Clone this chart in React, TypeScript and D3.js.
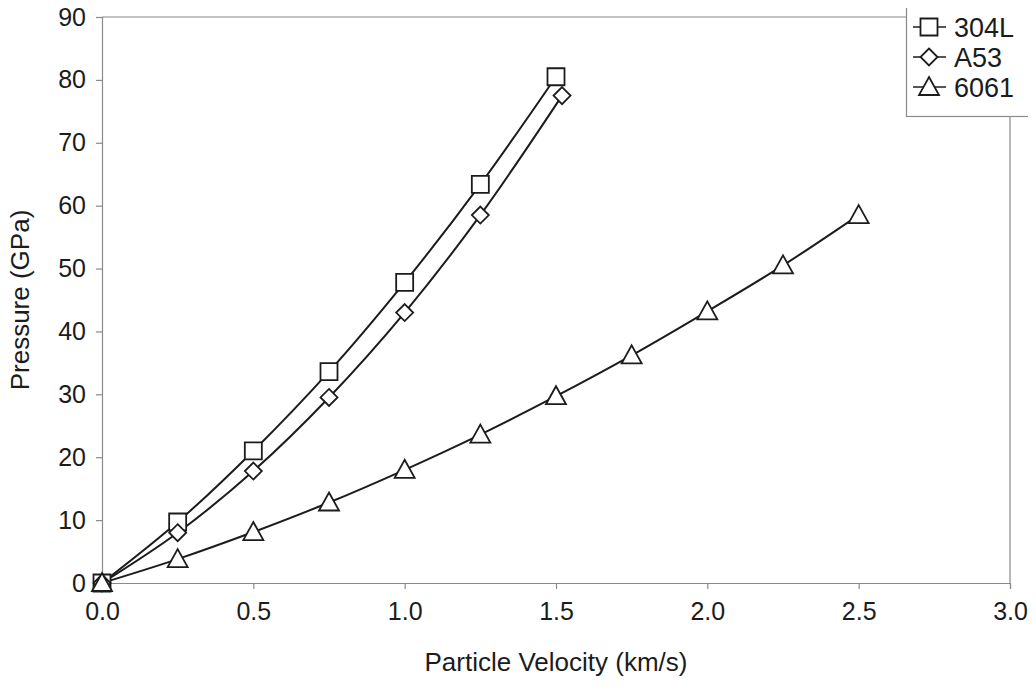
import React, { useEffect, useRef } from 'react';
import * as d3 from 'd3';

// particle velocity (km/s) vs pressure (GPa)
const velocities304L = [0, 0.25, 0.5, 0.75, 1.0, 1.25, 1.5];
const pressure304L = [0, 9.7, 21, 33.6, 47.8, 63.4, 80.5];

const velocitiesA53 = [0, 0.25, 0.5, 0.75, 1.0, 1.25, 1.52];
const pressureA53 = [0, 8, 17.8, 29.5, 43, 58.5, 77.5];

const velocities6061 = [0, 0.25, 0.5, 0.75, 1.0, 1.25, 1.5, 1.75, 2.0, 2.25, 2.5];
const pressure6061 = [0, 3.8, 8.1, 12.8, 18, 23.6, 29.7, 36.2, 43.2, 50.5, 58.5];

const xTicks = [0, 0.5, 1.0, 1.5, 2.0, 2.5, 3.0];
const yTicks = [0, 10, 20, 30, 40, 50, 60, 70, 80, 90];

const seriesNames = ['304L', 'A53', '6061'];

const App = () => {
  const ref = useRef<SVGSVGElement>(null);

  useEffect(() => {
    const svg = d3.select(ref.current);
    svg.selectAll('*').remove();

    const width = 1036;
    const height = 692;
    const left = 102;
    const right = 1010;
    const top = 17;
    const bottom = 583;
    const font = '"Liberation Sans", Arial, sans-serif';
    const ink = '#1c1c1c';
    const axisColor = '#8a8a8a';

    const x = d3.scaleLinear().domain([0, 3]).range([left, right]);
    const y = d3.scaleLinear().domain([0, 90]).range([bottom, top]);

    svg.append('rect').attr('width', width).attr('height', height).attr('fill', 'white');

    // plot frame (top & right)
    svg.append('path')
      .attr('d', `M${left},${top}H${right}V${bottom}`)
      .attr('fill', 'none')
      .attr('stroke', axisColor)
      .attr('stroke-width', 1.2);

    // x axis
    const gx = svg.append('g')
      .attr('transform', `translate(0,${bottom})`)
      .call(d3.axisBottom(x).tickValues(xTicks).tickFormat(d3.format('.1f')).tickSize(6).tickPadding(13));
    gx.selectAll('text').attr('font-size', 25).attr('font-family', font).attr('fill', ink);

    // y axis
    const gy = svg.append('g')
      .attr('transform', `translate(${left},0)`)
      .call(d3.axisLeft(y).tickValues(yTicks).tickFormat(d3.format('d')).tickSize(6).tickPadding(10));
    gy.selectAll('text').attr('font-size', 25).attr('font-family', font).attr('fill', ink);

    svg.selectAll('.domain, .tick line').attr('stroke', axisColor).attr('stroke-width', 1.2);

    // axis titles
    svg.append('text')
      .attr('x', 556)
      .attr('y', 671)
      .attr('text-anchor', 'middle')
      .attr('font-size', 26)
      .attr('font-family', font)
      .attr('fill', ink)
      .text('Particle Velocity (km/s)');

    svg.append('text')
      .attr('transform', 'rotate(-90)')
      .attr('x', -300)
      .attr('y', 29)
      .attr('text-anchor', 'middle')
      .attr('font-size', 26)
      .attr('font-family', font)
      .attr('fill', ink)
      .text('Pressure (GPa)');

    const series = [
      { name: '304L', data: velocities304L.map((v, i) => [v, pressure304L[i]]), marker: 'square' },
      { name: 'A53', data: velocitiesA53.map((v, i) => [v, pressureA53[i]]), marker: 'diamond' },
      { name: '6061', data: velocities6061.map((v, i) => [v, pressure6061[i]]), marker: 'triangle' },
    ];

    const line = d3.line<number[]>()
      .x(d => x(d[0]))
      .y(d => y(d[1]))
      .curve(d3.curveCatmullRom.alpha(0.5));

    const drawMarker = (g: any, kind: string, cx: number, cy: number) => {
      let d = '';
      if (kind === 'square') {
        const s = 8.5;
        d = `M${cx - s},${cy - s}H${cx + s}V${cy + s}H${cx - s}Z`;
      } else if (kind === 'diamond') {
        const s = 8.5;
        d = `M${cx},${cy - s}L${cx + s},${cy}L${cx},${cy + s}L${cx - s},${cy}Z`;
      } else {
        const s = 10;
        d = `M${cx},${cy - s}L${cx + s},${cy + 8}L${cx - s},${cy + 8}Z`;
      }
      g.append('path')
        .attr('d', d)
        .attr('fill', 'white')
        .attr('stroke', ink)
        .attr('stroke-width', 1.8);
    };

    series.forEach(s => {
      svg.append('path')
        .datum(s.data)
        .attr('fill', 'none')
        .attr('stroke', ink)
        .attr('stroke-width', 2)
        .attr('d', line);
    });

    series.forEach(s => {
      const g = svg.append('g');
      s.data.forEach(d => drawMarker(g, s.marker, x(d[0]), y(d[1])));
    });

    // legend
    const legend = svg.append('g');
    legend.append('rect')
      .attr('x', 906.5)
      .attr('y', 0.5)
      .attr('width', 140)
      .attr('height', 116)
      .attr('fill', 'white')
      .attr('stroke', axisColor)
      .attr('stroke-width', 1.2);

    seriesNames.forEach((name, i) => {
      const ly = 27 + i * 30;
      const s = series.find(d => d.name === name)!;
      legend.append('line')
        .attr('x1', 913)
        .attr('x2', 946)
        .attr('y1', ly)
        .attr('y2', ly)
        .attr('stroke', ink)
        .attr('stroke-width', 1.5);
      drawMarker(legend, s.marker, 929, ly);
      legend.append('text')
        .attr('x', 954)
        .attr('y', ly)
        .attr('dy', '0.36em')
        .attr('font-size', 27)
        .attr('font-family', font)
        .attr('fill', ink)
        .text(name);
    });
  }, []);

  return <svg ref={ref} width={1036} height={692} style={{ display: 'block', margin: -8 }} />;
};

export default App;
